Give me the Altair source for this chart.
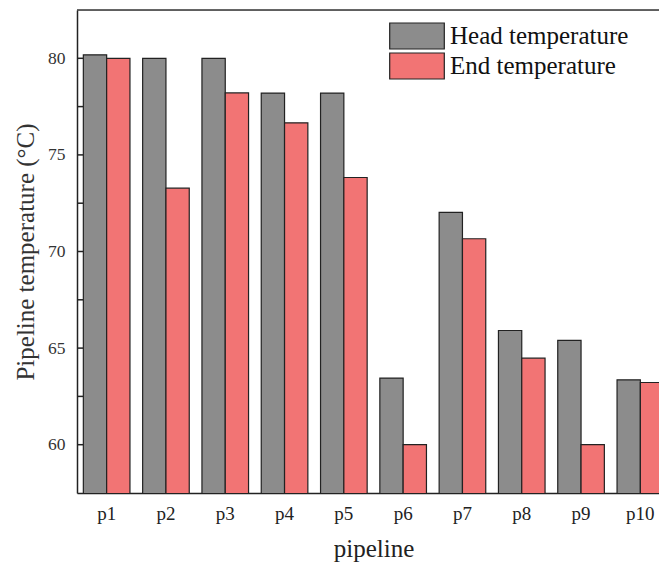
import altair as alt
import pandas as pd

# Pipeline segments and their measured temperatures (°C)
pipelines = ["p1", "p2", "p3", "p4", "p5", "p6", "p7", "p8", "p9", "p10"]
head_temp = [80.18, 80.0, 80.0, 78.2, 78.2, 63.45, 72.03, 65.91, 65.4, 63.36]
end_temp = [80.0, 73.28, 78.21, 76.66, 73.83, 60.0, 70.66, 64.48, 60.0, 63.22]
series = ["Head temperature", "End temperature"]
colors = ["#8c8c8c", "#f27474"]

major_ticks = [60, 65, 70, 75, 80]
all_ticks = [60, 62.5, 65, 67.5, 70, 72.5, 75, 77.5, 80]

rows = []
for p, h, e in zip(pipelines, head_temp, end_temp):
    rows.append({"pipeline": p, "series": series[0], "temp": h})
    rows.append({"pipeline": p, "series": series[1], "temp": e})
df = pd.DataFrame(rows)

W, H = 582, 483
FONT = "'Liberation Serif', 'Times New Roman', serif"

y_scale = alt.Scale(domain=[57.5, 82.5], nice=False, zero=False)

bars = alt.Chart(df).mark_bar(
    clip=True, stroke="#222222", strokeWidth=1.2
).encode(
    x=alt.X(
        "pipeline:N",
        sort=pipelines,
        scale=alt.Scale(range=[0, 593], paddingInner=0.214, paddingOuter=0.107),
        axis=alt.Axis(
            title="pipeline", labelAngle=0, ticks=False, domainColor="#222222",
            domainWidth=1.5, labelFont=FONT, labelFontSize=19, labelColor="#222222",
            labelPadding=11, titleFont=FONT, titleFontSize=25, titleFontWeight="normal",
            titleColor="#222222", titlePadding=13,
        ),
    ),
    xOffset=alt.XOffset("series:N", sort=series, scale=alt.Scale(paddingInner=0, paddingOuter=0)),
    y=alt.Y(
        "temp:Q",
        scale=y_scale,
        axis=alt.Axis(
            title="Pipeline temperature (°C)", values=major_ticks, ticks=False, grid=False,
            domainColor="#222222", domainWidth=1.5, labelFont=FONT, labelFontSize=17.5,
            labelColor="#333333", labelPadding=12, titleFont=FONT, titleFontSize=25,
            titleFontWeight="normal", titleColor="#333333", titlePadding=9,
        ),
    ),
    color=alt.Color(
        "series:N",
        sort=series,
        scale=alt.Scale(domain=series, range=colors),
        legend=alt.Legend(
            title=None, orient="none", legendX=326, legendY=12, padding=0,
            symbolType="M-2.1,-1H2.1V1H-2.1Z", symbolSize=676, symbolStrokeColor="#222222",
            symbolStrokeWidth=1.2, symbolOpacity=1, labelFont=FONT, labelFontSize=25,
            labelColor="#111111", labelOffset=19, rowPadding=-4, labelLimit=400,
        ),
    ),
)

# inward ticks on the left axis
tick_df = pd.DataFrame({"t": all_ticks})
ticks = alt.Chart(tick_df).mark_rule(color="#222222", strokeWidth=1.5).encode(
    y=alt.Y("t:Q", scale=y_scale),
    x=alt.value(0),
    x2=alt.value(6),
)

# top frame line
top = alt.Chart(pd.DataFrame({"t": [0]})).mark_rule(color="#333333", strokeWidth=1.5).encode(
    y=alt.value(0), x=alt.value(0), x2=alt.value(W)
)

chart = alt.layer(bars, ticks, top).properties(
    width=W, height=H,
    autosize=alt.AutoSizeParams(type="none"),
    padding={"left": 77, "top": 10, "right": 0, "bottom": 70},
).configure_view(stroke=None).configure(background="white")

chart.save("out.html", embed_options={"renderer": "svg", "actions": False})
